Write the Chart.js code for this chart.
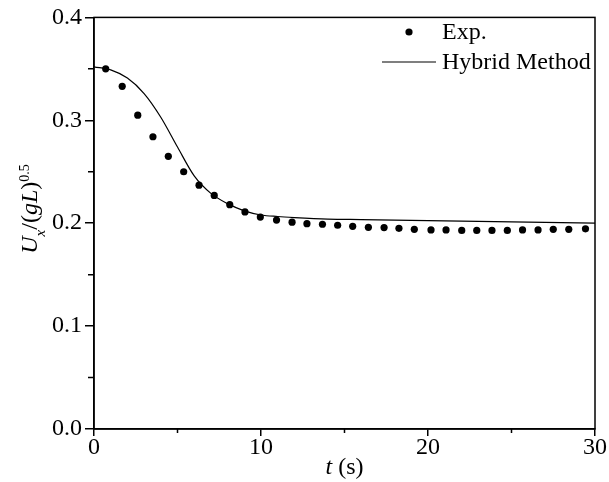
<!DOCTYPE html>
<html>
<head>
<meta charset="utf-8">
<script src="https://cdn.jsdelivr.net/npm/chart.js@4.4.1/dist/chart.umd.min.js"></script>
<style>
  html, body { margin: 0; padding: 0; background: #fff; }
  canvas { display: block; }
</style>
</head>
<body>
<canvas id="chart" width="609" height="482"></canvas>
<script>
// experimental points
const expT = [0.70, 1.69, 2.62, 3.53, 4.45, 5.37, 6.29, 7.20, 8.13, 9.04,
              9.96, 10.93, 11.86, 12.75, 13.68, 14.59, 15.49, 16.43, 17.37, 18.26,
              19.18, 20.18, 21.08, 22.02, 22.92, 23.83, 24.75, 25.66, 26.59, 27.50,
              28.43, 29.43];
const expU = [0.350, 0.333, 0.305, 0.284, 0.265, 0.250, 0.237, 0.227, 0.218, 0.211,
              0.206, 0.203, 0.201, 0.1995, 0.199, 0.198, 0.197, 0.196, 0.1957, 0.195,
              0.194, 0.1935, 0.1935, 0.193, 0.193, 0.193, 0.193, 0.1935, 0.1935, 0.194,
              0.194, 0.1945];

// hybrid method curve
const hybT = [0, 1, 2, 3, 4, 5, 6, 7, 8, 9, 10, 11, 12, 14, 16, 18, 20, 22, 24, 26, 28, 30];
const hybU = [0.352, 0.349, 0.341, 0.326, 0.303, 0.274, 0.246, 0.229, 0.219, 0.212,
              0.208, 0.2065, 0.2055, 0.204, 0.2035, 0.203, 0.2025, 0.202, 0.2015, 0.201,
              0.2005, 0.200];

const xTicks = [0, 5, 10, 15, 20, 25, 30];
const yTicks = [0, 0.05, 0.1, 0.15, 0.2, 0.25, 0.3, 0.35, 0.4];

const serif = '"Liberation Serif", "Times New Roman", serif';

const isMajorX = v => v % 10 === 0;
const isMajorY = v => Math.round(v * 100) % 10 === 0;

// draws a run of text pieces with different styles along the baseline
function drawRuns(ctx, runs, x, y) {
  let cx = x;
  runs.forEach(r => {
    ctx.font = (r.italic ? 'italic ' : '') + r.size + 'px ' + serif;
    ctx.fillText(r.text, cx, y + (r.dy || 0));
    cx += ctx.measureText(r.text).width;
  });
}
function runsWidth(ctx, runs) {
  let w = 0;
  runs.forEach(r => {
    ctx.font = (r.italic ? 'italic ' : '') + r.size + 'px ' + serif;
    w += ctx.measureText(r.text).width;
  });
  return w;
}

const decorations = {
  id: 'decorations',
  afterDraw(chart) {
    const ctx = chart.ctx;
    const a = chart.chartArea;
    const xs = chart.scales.x, ys = chart.scales.y;
    ctx.save();
    ctx.strokeStyle = '#000';
    ctx.lineWidth = 1.5;

    // minor ticks (shorter)
    ctx.beginPath();
    xTicks.filter(v => !isMajorX(v)).forEach(v => {
      const px = xs.getPixelForValue(v);
      ctx.moveTo(px, a.bottom);
      ctx.lineTo(px, a.bottom + 4);
    });
    yTicks.filter(v => !isMajorY(v)).forEach(v => {
      const py = ys.getPixelForValue(v);
      ctx.moveTo(a.left, py);
      ctx.lineTo(a.left - 6, py);
    });
    ctx.stroke();

    // frame
    ctx.strokeRect(a.left, a.top, a.right - a.left, a.bottom - a.top);

    ctx.fillStyle = '#000';
    ctx.textBaseline = 'alphabetic';

    // x title
    const xRuns = [
      { text: 't', italic: true, size: 24 },
      { text: ' (s)', size: 24 }
    ];
    const xw = runsWidth(ctx, xRuns);
    drawRuns(ctx, xRuns, (a.left + a.right) / 2 - xw / 2, 474);

    // y title (rotated)
    const yRuns = [
      { text: 'U', italic: true, size: 24 },
      { text: 'x', italic: true, size: 15, dy: 8 },
      { text: '/(', size: 24 },
      { text: 'gL', italic: true, size: 24 },
      { text: ')', size: 24 },
      { text: '0.5', size: 14, dy: -8 }
    ];
    const yw = runsWidth(ctx, yRuns);
    ctx.translate(37, 209);
    ctx.rotate(-Math.PI / 2);
    drawRuns(ctx, yRuns, -yw / 2, 0);
    ctx.restore();

    // legend
    ctx.save();
    const ds0 = chart.data.datasets[0];
    const ds1 = chart.data.datasets[1];
    ctx.fillStyle = ds0.backgroundColor;
    ctx.beginPath();
    ctx.arc(409, 32, 3.6, 0, Math.PI * 2);
    ctx.fill();
    ctx.strokeStyle = ds1.borderColor;
    ctx.lineWidth = ds1.borderWidth;
    ctx.beginPath();
    ctx.moveTo(382, 62);
    ctx.lineTo(436, 62);
    ctx.stroke();
    ctx.fillStyle = '#000';
    ctx.font = '24px ' + serif;
    ctx.fillText(ds0.label, 442, 39);
    ctx.fillText(ds1.label, 442, 69);
    ctx.restore();
  }
};

new Chart(document.getElementById('chart'), {
  type: 'scatter',
  data: {
    datasets: [
      {
        label: 'Exp.',
        data: expT.map((t, i) => ({ x: t, y: expU[i] })),
        backgroundColor: '#000',
        borderColor: '#000',
        pointRadius: 3.6,
        pointBorderWidth: 0,
        showLine: false
      },
      {
        label: 'Hybrid Method',
        type: 'line',
        data: hybT.map((t, i) => ({ x: t, y: hybU[i] })),
        borderColor: '#000',
        borderWidth: 1.2,
        pointRadius: 0,
        fill: false,
        cubicInterpolationMode: 'monotone'
      }
    ]
  },
  options: {
    responsive: false,
    animation: false,
    layout: { padding: { top: 16, right: 14, left: 0, bottom: 0 } },
    plugins: { legend: { display: false }, tooltip: { enabled: false } },
    scales: {
      x: {
        type: 'linear',
        min: 0,
        max: 30,
        afterBuildTicks: s => { s.ticks = xTicks.map(v => ({ value: v })); },
        afterFit: s => { s.height = 53; },
        ticks: {
          color: '#000',
          font: { family: serif, size: 24 },
          padding: -3,
          maxRotation: 0,
          autoSkip: false,
          callback: v => (isMajorX(v) ? String(v) : '')
        },
        grid: {
          drawOnChartArea: false,
          tickLength: 7,
          lineWidth: 1.5,
          tickColor: c => (c.tick && isMajorX(c.tick.value) ? '#000' : 'rgba(0,0,0,0)')
        },
        border: { color: '#000', width: 1.5 }
      },
      y: {
        min: 0,
        max: 0.4,
        afterBuildTicks: s => { s.ticks = yTicks.map(v => ({ value: v })); },
        afterFit: s => { s.width = 94; },
        ticks: {
          color: '#000',
          font: { family: serif, size: 24 },
          padding: 3,
          autoSkip: false,
          callback: v => (isMajorY(v) ? v.toFixed(1) : '')
        },
        grid: {
          drawOnChartArea: false,
          tickLength: 9,
          lineWidth: 1.5,
          tickColor: c => (c.tick && isMajorY(c.tick.value) ? '#000' : 'rgba(0,0,0,0)')
        },
        border: { color: '#000', width: 1.5 }
      }
    }
  },
  plugins: [decorations]
});
</script>
</body>
</html>
